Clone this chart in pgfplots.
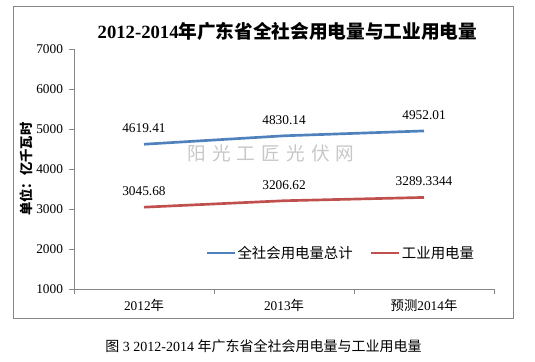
\documentclass[border=0pt]{standalone}
\usepackage{fontspec}
\usepackage{pgfplots}
\pgfplotsset{compat=1.18}
\setmainfont{Liberation Serif}
\newfontfamily\cjk{Noto Sans CJK SC}
\definecolor{sblue}{HTML}{4F81BD}
\definecolor{sred}{HTML}{C0504D}
\definecolor{axgray}{HTML}{868686}
\begin{document}
\begin{tikzpicture}[x=0.75pt,y=0.75pt]
\path[use as bounding box] (0,0) rectangle (535,361);
\draw[axgray, line width=0.75pt] (13,{361-7}) rectangle (513,{361-318});
\node[font=\fontsize{14}{16}\selectfont\bfseries] at (287.5,{361-31}) {2012-2014{\cjk 年广东省全社会用电量与工业用电量}};
\node[text=black!22, font=\fontsize{14}{16}\selectfont\cjk] at (271,{361-153}) {阳\hspace{4.5pt}光\hspace{4.5pt}工\hspace{4.5pt}匠\hspace{4.5pt}光\hspace{4.5pt}伏\hspace{4.5pt}网};
\begin{axis}[
  at={(55.5pt,54pt)}, anchor=south west,
  scale only axis, width=315pt, height=180pt,
  xmin=0, xmax=3, ymin=1000, ymax=7000,
  axis x line*=bottom, axis y line*=left,
  axis line style={draw=axgray, line width=0.75pt, -},
  tick style={draw=axgray, line width=0.75pt},
  tick align=outside, major tick length=3.75pt,
  xtick={0,1,2,3}, xticklabels={},
  extra x ticks={0.5,1.5,2.5},
  extra x tick labels={2012{\cjk 年},2013{\cjk 年},{\cjk 预测}2014{\cjk 年}},
  extra x tick style={major tick length=0pt, xticklabel style={anchor=center, yshift=-12pt}},
  ytick={1000,2000,...,7000},
  yticklabel style={anchor=east, xshift=-1pt},
  /pgf/number format/assume math mode=true,
  /pgf/number format/1000 sep={},
  tick label style={font=\fontsize{10}{12}\selectfont},
  ylabel={\cjk\bfseries 单位：亿千瓦时},
  ylabel style={at={(axis description cs:-0.1143,0.5)}, anchor=center, font=\fontsize{10}{12}\selectfont},
  nodes near coords, point meta=explicit symbolic,
  nodes near coords style={anchor=center, yshift=12pt, font=\fontsize{10}{12}\selectfont, text=black},
  legend columns=2,
  legend style={at={(0.312,0.15)}, anchor=west, draw=none, fill=none, inner sep=0pt,
    font=\fontsize{10.8}{12}\selectfont\cjk, column sep=0pt,
    nodes={inner xsep=1.2pt},
    /tikz/every even column/.append style={column sep=11.5pt}},
  legend image code/.code={\draw[#1] (0pt,0pt) -- (21pt,0pt);},
]
\addplot[sblue, line width=2pt, mark=none] coordinates {(0.5,4619.41) [4619.41] (1.5,4830.14) [4830.14] (2.5,4952.01) [4952.01]};
\addlegendentry{全社会用电量总计}
\addplot[sred, line width=2pt, mark=none] coordinates {(0.5,3045.68) [3045.68] (1.5,3206.62) [3206.62] (2.5,3289.3344) [3289.3344]};
\addlegendentry{工业用电量}
\end{axis}
\node[font=\fontsize{10.5}{12}\selectfont] at (263.5,{361-346}) {{\cjk 图} 3 2012-2014 {\cjk 年广东省全社会用电量与工业用电量}};
\end{tikzpicture}
\end{document}
